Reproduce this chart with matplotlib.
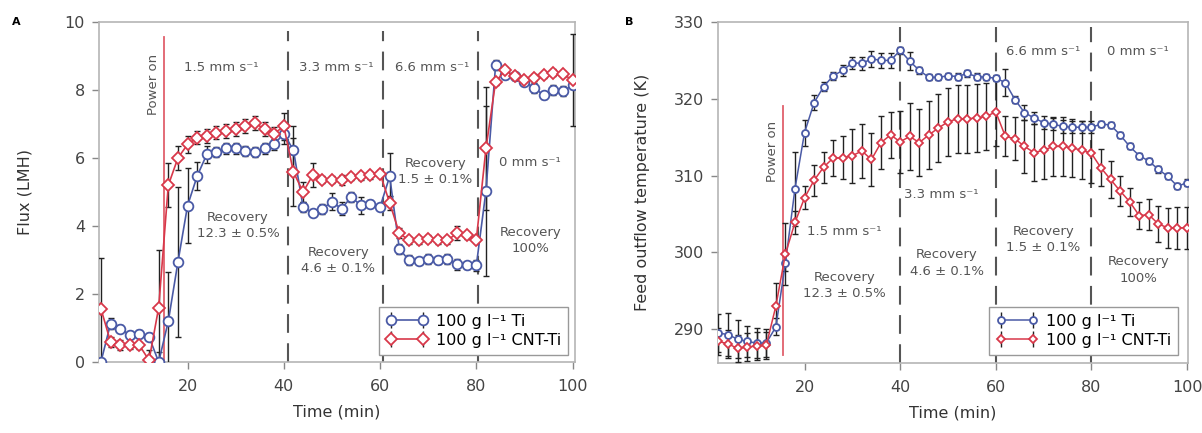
import numpy as np
import matplotlib
matplotlib.use("Agg")
import matplotlib.pyplot as plt

# ---------------- data ----------------
time_min = list(range(2, 101, 2))

flux_ti = [0.0, 1.13, 0.98, 0.80, 0.83, 0.74, 0.0, 1.2, 2.94, 4.6,
           5.47, 6.11, 6.17, 6.28, 6.28, 6.2, 6.17, 6.28, 6.4, 6.72,
           6.23, 4.56, 4.38, 4.51, 4.71, 4.51, 4.85, 4.61, 4.66, 4.56,
           5.46, 3.33, 2.99, 2.97, 3.04, 2.99, 3.04, 2.87, 2.84, 2.84,
           5.03, 8.73, 8.43, 8.4, 8.24, 8.07, 7.84, 7.99, 7.97, 8.14]
flux_ti_err = [0.1, 0.15, 0.1, 0.1, 0.1, 0.1, 0.3, 1.45, 2.2, 1.1,
               0.4, 0.25, 0.15, 0.15, 0.15, 0.15, 0.15, 0.15, 0.15, 0.3,
               0.7, 0.15, 0.1, 0.15, 0.25, 0.2, 0.15, 0.25, 0.1, 0.1,
               0.7, 0.15, 0.15, 0.1, 0.15, 0.1, 0.15, 0.15, 0.1, 0.15,
               2.5, 0.15, 0.1, 0.1, 0.1, 0.15, 0.1, 0.15, 0.15, 0.1]
flux_cnt = [1.57, 0.59, 0.49, 0.49, 0.49, 0.05, 1.6, 5.2, 6.0, 6.4,
            6.6, 6.65, 6.75, 6.8, 6.85, 6.95, 7.03, 6.85, 6.72, 6.93,
            5.59, 5.0, 5.49, 5.36, 5.36, 5.36, 5.44, 5.46, 5.49, 5.54,
            4.68, 3.79, 3.58, 3.58, 3.63, 3.58, 3.58, 3.79, 3.73, 3.6,
            6.28, 8.24, 8.58, 8.4, 8.28, 8.36, 8.44, 8.51, 8.47, 8.29]
flux_cnt_err = [1.5, 0.15, 0.15, 0.1, 0.1, 0.3, 1.7, 0.65, 0.35, 0.25,
                0.2, 0.2, 0.2, 0.2, 0.2, 0.2, 0.2, 0.2, 0.2, 0.4,
                1.0, 0.3, 0.35, 0.1, 0.1, 0.15, 0.1, 0.1, 0.1, 0.1,
                0.2, 0.15, 0.1, 0.1, 0.1, 0.1, 0.1, 0.2, 0.1, 0.1,
                1.8, 0.1, 0.1, 0.1, 0.1, 0.1, 0.1, 0.1, 0.1, 1.35]

temp_ti = [289.5, 289.3, 288.7, 288.4, 288.2, 288.2, 290.3, 298.6, 308.3, 315.6,
           319.5, 321.6, 323.0, 323.7, 324.7, 324.6, 325.2, 325.0, 325.0, 326.3,
           324.9, 323.7, 322.8, 322.8, 323.0, 322.9, 323.3, 322.9, 322.8, 322.7,
           322.1, 319.9, 318.2, 317.5, 316.9, 316.7, 316.4, 316.3, 316.3, 316.3,
           316.7, 316.6, 315.3, 313.8, 312.6, 311.9, 310.8, 309.9, 308.6, 309.1]
temp_ti_err = [2.5, 2.8, 2.5, 2.0, 2.0, 1.8, 1.1, 1.0, 4.8, 1.7,
               1.0, 0.6, 0.5, 0.7, 0.8, 0.9, 1.0, 1.0, 1.0, 0.5,
               1.2, 0.5, 0.4, 0.4, 0.4, 0.4, 0.4, 0.4, 0.4, 0.4,
               1.8, 0.5, 1.0, 0.8, 0.8, 0.8, 0.8, 0.8, 0.8, 0.8,
               0.4, 0.4, 0.4, 0.4, 0.4, 0.4, 0.4, 0.4, 0.4, 0.4]
temp_cnt = [288.4, 288.1, 287.5, 287.7, 287.8, 287.9, 293.0, 299.8, 303.9, 307.1,
            309.4, 311.1, 312.3, 312.3, 312.6, 313.2, 312.1, 314.3, 315.3, 314.4,
            315.1, 314.3, 315.3, 316.2, 317.0, 317.4, 317.4, 317.5, 317.7, 318.3,
            315.1, 314.8, 313.8, 313.0, 313.3, 313.8, 313.8, 313.6, 313.3, 312.9,
            311.0, 309.5, 308.0, 306.6, 304.8, 304.9, 303.7, 303.2, 303.2, 303.2]
temp_cnt_err = [1.8, 1.8, 1.8, 1.8, 1.8, 1.8, 3.0, 4.0, 1.5, 1.5,
                2.0, 2.0, 2.3, 2.8, 3.5, 3.5, 3.5, 3.5, 3.0, 4.0,
                4.4, 4.4, 4.4, 4.4, 4.4, 4.4, 4.4, 4.4, 4.4, 4.4,
                2.6, 2.8, 3.5, 3.7, 3.8, 3.8, 3.8, 3.8, 3.8, 3.8,
                2.4, 2.4, 2.0, 1.8, 1.8, 2.0, 2.4, 2.6, 2.7, 2.7]

series_labels = ["100 g l\u207b\u00b9 Ti", "100 g l\u207b\u00b9 CNT-Ti"]
switch_times_a = [40.8, 60.6, 80.4]
switch_times_b = [40, 60, 80]
power_on_a = 15.1
power_on_b = 15.4

BLUE = "#4a5aa6"
RED = "#d8384a"
GRAY_TXT = "#555555"
SPINE = "#b5b5b5"
DASH = "#555555"
PWR = "#e0606c"

plt.rcParams['font.family'] = ['DejaVu Sans']

fig = plt.figure(figsize=(12.02, 4.33), dpi=100)
axA = fig.add_axes([99/1202, 1-362/433, (575-99)/1202, (362-22)/433])
axB = fig.add_axes([718/1202, 1-363/433, (1188-718)/1202, (363-22)/433])


def style(ax):
    for s in ax.spines.values():
        s.set_color(SPINE)
        s.set_linewidth(1.2)
    ax.tick_params(direction='out', length=5, width=1.0, color="#888888",
                   labelcolor="#444444", labelsize=11.5, pad=5)
    ax.tick_params(axis='x', pad=7)


def draw(ax, y1, e1, y2, e2, ms_c, ms_d, lw):
    ax.errorbar(time_min, y1, yerr=e1, fmt='none', ecolor="#222222",
                elinewidth=1.0, capsize=2.2, capthick=1.0, zorder=3)
    ax.errorbar(time_min, y2, yerr=e2, fmt='none', ecolor="#222222",
                elinewidth=1.0, capsize=2.2, capthick=1.0, zorder=3)
    ax.plot(time_min, y1, '-', color=BLUE, lw=lw, marker='o', ms=ms_c,
            mfc='white', mec=BLUE, mew=1.3, zorder=4)
    ax.plot(time_min, y2, '-', color=RED, lw=lw, marker='D', ms=ms_d,
            mfc='white', mec=RED, mew=1.3, zorder=5)
    # legend handles
    h1 = ax.errorbar([], [], yerr=[], fmt='-o', color=BLUE, ms=ms_c, mfc='white',
                     mec=BLUE, mew=1.3, lw=lw, ecolor="#222222", elinewidth=1.0,
                     capsize=2.2)
    h2 = ax.errorbar([], [], yerr=[], fmt='-D', color=RED, ms=ms_d, mfc='white',
                     mec=RED, mew=1.3, lw=lw, ecolor="#222222", elinewidth=1.0,
                     capsize=2.2)
    return h1, h2


# ---------------- Panel A ----------------
ax = axA
style(ax)
h1, h2 = draw(ax, flux_ti, flux_ti_err, flux_cnt, flux_cnt_err, 7, 6, 1.2)
ax.set_xlim(1.6, 100.5)
ax.set_ylim(0, 10)
ax.set_xticks([20, 40, 60, 80, 100])
ax.set_yticks([0, 2, 4, 6, 8, 10])
for t in switch_times_a:
    ax.plot([t, t], [0, 9.75], color=DASH, lw=1.5, dashes=(9, 5), zorder=2)
ax.plot([power_on_a, power_on_a], [0, 9.55], color=PWR, lw=1.3, zorder=2)
ax.set_xlabel("Time (min)", fontsize=11.5, color="#333333")
ax.set_ylabel("Flux (LMH)", fontsize=11.5, color="#333333")
ax.yaxis.set_label_coords(-0.14, 0.5)
ax.xaxis.set_label_coords(0.5, -0.125)
tkw = dict(fontsize=9.5, color=GRAY_TXT, ha='center', va='center', linespacing=1.35)
ax.text(13.0, 8.15, "Power on", rotation=90, **tkw)
ax.text(27.0, 8.65, "1.5 mm s\u207b\u00b9", **tkw)
ax.text(50.8, 8.65, "3.3 mm s\u207b\u00b9", **tkw)
ax.text(70.9, 8.65, "6.6 mm s\u207b\u00b9", **tkw)
ax.text(30.5, 4.02, "Recovery\n12.3 \u00b1 0.5%", **tkw)
ax.text(51.3, 2.99, "Recovery\n4.6 \u00b1 0.1%", **tkw)
ax.text(71.5, 5.6, "Recovery\n1.5 \u00b1 0.1%", **tkw)
ax.text(91.2, 5.87, "0 mm s\u207b\u00b9", **tkw)
ax.text(91.2, 3.58, "Recovery\n100%", **tkw)
ax.legend([h1, h2], series_labels, loc='lower right',
          bbox_to_anchor=((568-99)/476, 7/340), borderaxespad=0,
          fancybox=False, edgecolor="#999999", framealpha=1, numpoints=2,
          fontsize=11.5, handlelength=2.6, labelspacing=0.25,
          borderpad=0.45, handletextpad=0.5)
fig.text(12/1202, 1-22/433, "A", fontsize=8, fontweight='bold', va='center')

# ---------------- Panel B ----------------
ax = axB
style(ax)
h1, h2 = draw(ax, temp_ti, temp_ti_err, temp_cnt, temp_cnt_err, 5, 4.5, 1.1)
ax.set_xlim(1.9, 100.2)
ax.set_ylim(285.6, 330)
ax.set_xticks([20, 40, 60, 80, 100])
ax.set_yticks([290, 300, 310, 320, 330])
for t in switch_times_b:
    ax.plot([t, t], [285.6, 329.3], color=DASH, lw=1.5, dashes=(9, 5), zorder=2)
ax.plot([power_on_b, power_on_b], [286.6, 319.0], color=PWR, lw=1.3, zorder=2)
ax.set_xlabel("Time (min)", fontsize=11.5, color="#333333")
ax.set_ylabel("Feed outflow temperature (K)", fontsize=11.5, color="#333333")
ax.yaxis.set_label_coords(-0.145, 0.5)
ax.xaxis.set_label_coords(0.5, -0.125)
ax.text(13.4, 313.1, "Power on", rotation=90, **tkw)
ax.text(28.3, 302.7, "1.5 mm s\u207b\u00b9", **tkw)
ax.text(28.3, 295.7, "Recovery\n12.3 \u00b1 0.5%", **tkw)
ax.text(48.5, 307.5, "3.3 mm s\u207b\u00b9", **tkw)
ax.text(49.8, 298.6, "Recovery\n4.6 \u00b1 0.1%", **tkw)
ax.text(70.0, 326.2, "6.6 mm s\u207b\u00b9", **tkw)
ax.text(89.8, 326.2, "0 mm s\u207b\u00b9", **tkw)
ax.text(70.0, 301.7, "Recovery\n1.5 \u00b1 0.1%", **tkw)
ax.text(89.8, 297.7, "Recovery\n100%", **tkw)
ax.legend([h1, h2], series_labels, loc='lower right',
          bbox_to_anchor=((1178-718)/470, 8/341), borderaxespad=0,
          fancybox=False, edgecolor="#999999", framealpha=1, numpoints=2,
          fontsize=11.5, handlelength=2.6, labelspacing=0.25,
          borderpad=0.45, handletextpad=0.5)
fig.text(625/1202, 1-22/433, "B", fontsize=8, fontweight='bold', va='center')

fig.savefig("out.png", dpi=100)
